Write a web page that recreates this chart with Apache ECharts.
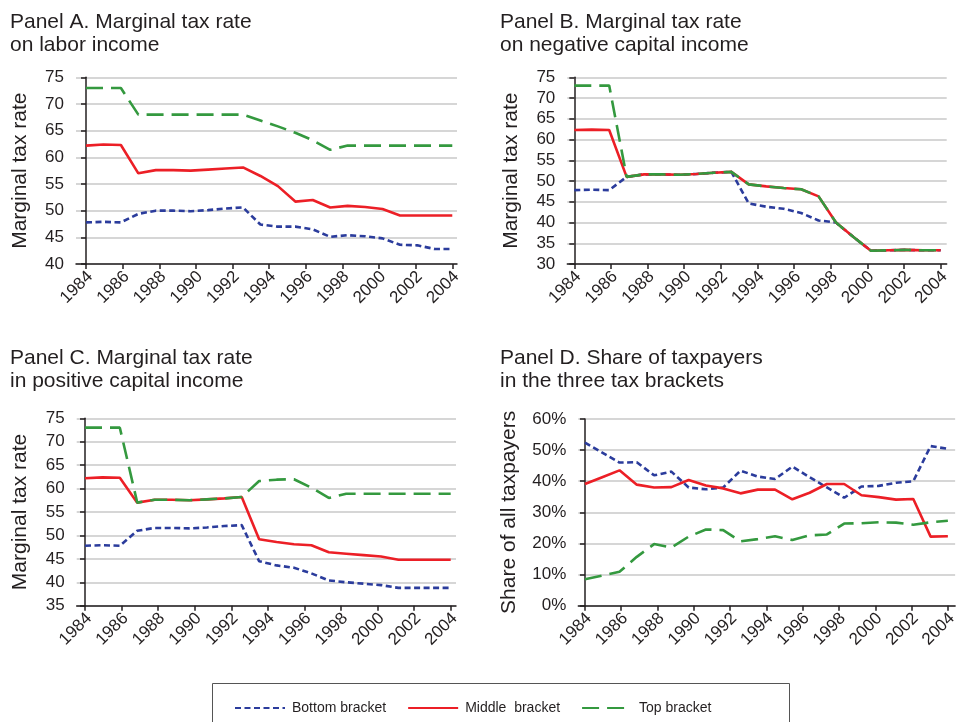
<!DOCTYPE html>
<html>
<head>
<meta charset="utf-8">
<script src="https://cdn.jsdelivr.net/npm/echarts@6/dist/echarts.min.js"></script>
<style>html,body{margin:0;padding:0;background:#fff}#chart{width:960px;height:722px}</style>
</head>
<body>
<div id="chart"></div>
<script>
// ---- data ----
const yearTicks = [1984,1986,1988,1990,1992,1994,1996,1998,2000,2002,2004];
const seriesNames = ['Bottom bracket', 'Middle  bracket', 'Top bracket'];

// Panel A: labor income
const aBottom = [47.8,47.9,47.8,49.4,50.0,50.0,49.9,50.1,50.4,50.6,47.4,47.0,47.0,46.5,45.1,45.4,45.2,44.8,43.6,43.5,42.8,42.8];
const aMiddle = [62.2,62.4,62.3,57.0,57.6,57.6,57.5,57.7,57.9,58.1,56.5,54.6,51.7,52.0,50.6,50.9,50.7,50.3,49.1,49.1,49.1,49.1];
const aTop    = [73.0,73.0,73.0,68.0,68.0,68.0,68.0,68.0,68.0,68.0,66.9,65.8,64.6,63.2,61.4,62.2,62.2,62.2,62.2,62.2,62.2,62.2];
// Panel B: negative capital income
const bBottom = [47.8,47.9,47.8,51.0,51.6,51.6,51.5,51.7,52.0,52.2,44.6,43.8,43.3,42.3,40.5,40.0,36.5,33.2,33.3,33.4,33.3,33.3];
const bMiddle = [62.3,62.4,62.3,51.0,51.6,51.6,51.5,51.7,52.0,52.2,49.2,48.7,48.3,48.0,46.3,40.0,36.5,33.2,33.3,33.4,33.3,33.3];
const bTop    = [73.0,73.0,73.0,51.0,51.6,51.6,51.5,51.7,52.0,52.2,49.2,48.7,48.3,48.0,46.3,40.0,36.5,33.2,33.3,33.4,33.3,33.3];
// Panel C: positive capital income
const cBottom = [47.8,47.9,47.8,51.0,51.6,51.6,51.5,51.7,52.0,52.2,44.5,43.6,43.1,41.9,40.4,40.0,39.7,39.4,38.8,38.8,38.8,38.8];
const cMiddle = [62.2,62.4,62.3,57.0,57.6,57.6,57.5,57.7,57.9,58.2,49.2,48.6,48.1,47.9,46.4,46.1,45.8,45.5,44.8,44.8,44.8,44.8];
const cTop    = [73.0,73.0,73.0,57.0,57.6,57.6,57.5,57.7,57.9,58.2,61.6,61.9,62.0,60.2,58.0,58.9,58.9,58.9,58.9,58.9,58.9,58.9];
// Panel D: share of taxpayers (%)
const dBottom = [52.4,49.2,46.0,46.1,41.9,43.1,38.0,37.4,38.0,43.4,41.5,40.7,44.7,41.3,38.0,34.7,38.3,38.5,39.5,40.0,51.3,50.4];
const dMiddle = [39.1,41.3,43.5,38.9,38.0,38.1,40.4,38.6,37.7,36.1,37.3,37.3,34.2,36.3,39.1,39.1,35.5,34.9,34.1,34.3,22.2,22.3];
const dTop    = [8.5,9.7,10.9,15.7,19.8,18.7,22.2,24.5,24.3,20.7,21.4,22.3,21.1,22.6,22.9,26.4,26.5,26.8,26.7,26.0,26.8,27.3];

// ---- layout / style ----
const FONT = 'Liberation Sans, Arial, Helvetica, sans-serif';
const TXT = '#231f20';
const colors = ['#2b3c9c', '#ec1f26', '#34993f'];
const dashes = [[6, 3.5], 'solid', [17, 8]];
const LABEL_SHIFT = 0.22; // year-label anchor shift to the right (in axis units)

const panels = [
  {title: 'Panel A. Marginal tax rate\non labor income', tl: 10, tt: 11,
   grid: {left: 76, top: 77.3, width: 381, height: 186.7}, yMin: 40, yMax: 75, yInt: 5,
   yearMin: 1983.454, yearMax: 2004.257, yName: 'Marginal tax rate', nameGap: 45, pct: false,
   data: [aBottom, aMiddle, aTop]},
  {title: 'Panel B. Marginal tax rate\non negative capital income', tl: 500, tt: 11,
   grid: {left: 567.3, top: 77.3, width: 379.4, height: 186.7}, yMin: 30, yMax: 75, yInt: 5,
   yearMin: 1983.618, yearMax: 2004.328, yName: 'Marginal tax rate', nameGap: 46, pct: false,
   data: [bBottom, bMiddle, bTop]},
  {title: 'Panel C. Marginal tax rate\nin positive capital income', tl: 10, tt: 347,
   grid: {left: 76.7, top: 418.3, width: 379.3, height: 187.4}, yMin: 35, yMax: 75, yInt: 5,
   yearMin: 1983.546, yearMax: 2004.29, yName: 'Marginal tax rate', nameGap: 45.5, pct: false,
   data: [cBottom, cMiddle, cTop]},
  {title: 'Panel D. Share of taxpayers\nin the three tax brackets', tl: 500, tt: 347,
   grid: {left: 578.3, top: 419, width: 379.7, height: 186.7}, yMin: 0, yMax: 60, yInt: 10,
   yearMin: 1983.634, yearMax: 2004.4, yName: 'Share of all taxpayers', nameGap: 59, pct: true,
   data: [dBottom, dMiddle, dTop]}
];

const option = {
  animation: false,
  backgroundColor: '#fff',
  textStyle: {fontFamily: FONT, color: TXT},
  title: [], grid: [], xAxis: [], yAxis: [], series: [],
  legend: {
    left: 229, top: 696, itemWidth: 50, itemHeight: 14, itemGap: 21,
    data: seriesNames,
    itemStyle: {opacity: 0},
    textStyle: {fontFamily: FONT, fontSize: 14, color: TXT, padding: [0, 0, 0, 2]},
    selectedMode: false
  },
  graphic: [{
    type: 'rect', shape: {x: 212.5, y: 683.5, width: 577, height: 80},
    style: {fill: 'none', stroke: '#555', lineWidth: 1}, silent: true
  }]
};

panels.forEach((p, pi) => {
  const n = p.data[0].length;
  option.title.push({
    text: p.title, left: p.tl, top: p.tt, padding: 0,
    textStyle: {fontFamily: FONT, fontSize: 21, lineHeight: 23, fontWeight: 'normal', color: TXT}
  });
  option.grid.push(Object.assign({containLabel: false}, p.grid));
  // visible year axis
  option.xAxis.push({
    type: 'value', gridIndex: pi, min: p.yearMin, max: p.yearMax,
    axisLine: {show: true, onZero: false, lineStyle: {color: TXT, width: 1.5}},
    axisTick: {show: true, customValues: yearTicks, length: 5, lineStyle: {color: TXT, width: 1.5}},
    axisLabel: {customValues: yearTicks.map(y => y + LABEL_SHIFT), rotate: 45, fontSize: 17, color: TXT,
      fontFamily: FONT, margin: 10, hideOverlap: false, showMinLabel: true, showMaxLabel: true,
      formatter: v => String(Math.round(v - LABEL_SHIFT))},
    splitLine: {show: false}
  });
  // hidden observation axis
  option.xAxis.push({
    type: 'value', gridIndex: pi, show: false,
    min: (p.yearMin - 1984) * (n - 1) / 20, max: (p.yearMax - 1984) * (n - 1) / 20
  });
  option.yAxis.push({
    type: 'value', gridIndex: pi, min: p.yMin, max: p.yMax, interval: p.yInt,
    name: p.yName, nameLocation: 'middle', nameGap: p.nameGap,
    nameTextStyle: {fontFamily: FONT, fontSize: 21, color: TXT},
    axisLine: {show: true, lineStyle: {color: TXT, width: 1.5}},
    axisTick: {show: true, length: 5, lineStyle: {color: TXT, width: 1.5}},
    axisLabel: {fontSize: 17, color: TXT, fontFamily: FONT, margin: 12,
      formatter: p.pct ? '{value}%' : '{value}'},
    splitLine: {show: true, lineStyle: {color: '#c9c9c9', width: 1.5}}
  });
  p.data.forEach((vals, si) => {
    option.series.push({
      name: seriesNames[si], type: 'line', xAxisIndex: pi * 2 + 1, yAxisIndex: pi,
      data: vals.map((v, i) => [i, v]),
      symbol: 'none', smooth: false, color: colors[si],
      lineStyle: {color: colors[si], width: 2.6, type: dashes[si]},
      z: 2 + si
    });
  });
});

const chart = echarts.init(document.getElementById('chart'), null, {renderer: 'canvas'});
chart.setOption(option);
</script>
</body>
</html>
